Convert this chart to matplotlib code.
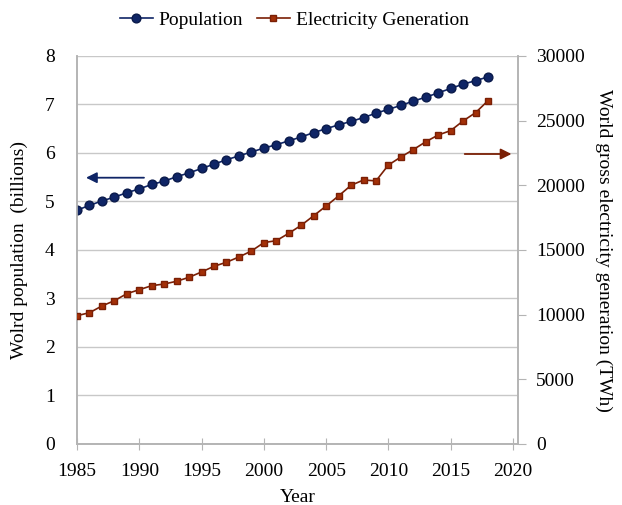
import matplotlib.pyplot as plt

plt.rcParams['font.family'] = ['Liberation Serif', 'DejaVu Serif']
plt.rcParams['font.size'] = 14

years = list(range(1985, 2019))

# world population, billions
population = [4.82, 4.92, 5.01, 5.09, 5.18, 5.26, 5.35, 5.42, 5.51, 5.59,
              5.68, 5.77, 5.86, 5.94, 6.02, 6.10, 6.17, 6.25, 6.33, 6.42,
              6.50, 6.58, 6.65, 6.73, 6.82, 6.90, 6.98, 7.07, 7.15, 7.24,
              7.33, 7.42, 7.49, 7.57]

# world gross electricity generation, TWh
electricity = [9920, 10150, 10670, 11080, 11620, 11930, 12240, 12370, 12580, 12890,
               13300, 13740, 14050, 14460, 14920, 15570, 15720, 16290, 16910, 17650,
               18400, 19180, 20000, 20410, 20340, 21570, 22190, 22760, 23370, 23890,
               24230, 24980, 25620, 26550]

pop_color = '#0f2566'
elec_color = '#a33008'
elec_edge = '#7a1f05'
grid_gray = '#c8c8c8'

fig = plt.figure(figsize=(6.22, 5.05), dpi=100)
ax = fig.add_axes([0.1238, 0.1208, 0.7090, 0.7684])
ax2 = ax.twinx()

l1, = ax.plot(years, population, color=pop_color, lw=1.2, marker='o',
              markersize=6.3, markerfacecolor=pop_color, markeredgecolor='#0a1a4a',
              label='Population', zorder=3)
l2, = ax2.plot(years, electricity, color=elec_edge, lw=1.2, marker='s',
               markersize=4.8, markerfacecolor=elec_color, markeredgecolor=elec_edge,
               label='Electricity Generation', zorder=3)

ax.set_xlim(1985, 2020.4)
ax.set_ylim(0, 8)
ax2.set_ylim(0, 30000)
ax.set_xticks(range(1985, 2021, 5))
ax.set_yticks(range(0, 9))
ax2.set_yticks(range(0, 30001, 5000))

ax.grid(axis='y', color=grid_gray, lw=1)
ax.set_axisbelow(True)

for a in (ax, ax2):
    a.spines['top'].set_visible(False)
    for s in ('left', 'right', 'bottom'):
        a.spines[s].set_color('#b4b4b4')
        a.spines[s].set_linewidth(1.2)

ax.tick_params(axis='y', length=0, pad=16)
ax.tick_params(axis='x', direction='inout', length=8, color='#b4b4b4', pad=10)
ax2.tick_params(axis='y', direction='out', length=6, color='#b4b4b4', pad=7)

ax.set_xlabel('Year', labelpad=6)
ax.set_ylabel('Wolrd population  (billions)', labelpad=12)
ax2.set_ylabel('World gross electricity generation (TWh)', rotation=270, labelpad=20)

# direction arrows pointing to each series' axis
ax.annotate('', xy=(1985.5, 5.49), xytext=(1990.6, 5.49),
            arrowprops=dict(arrowstyle='-|>', color=pop_color, lw=1.3,
                            mutation_scale=16))
ax2.annotate('', xy=(2020.1, 22420), xytext=(2015.9, 22420),
             arrowprops=dict(arrowstyle='-|>', color=elec_edge, lw=1.3,
                             mutation_scale=16))

fig.legend(handles=[l1, l2], loc='center', bbox_to_anchor=(0.473, 0.96), ncol=2,
           frameon=False, handlelength=1.7, handletextpad=0.3, columnspacing=0.7,
           fontsize=14)

fig.savefig('out.png', dpi=100)
